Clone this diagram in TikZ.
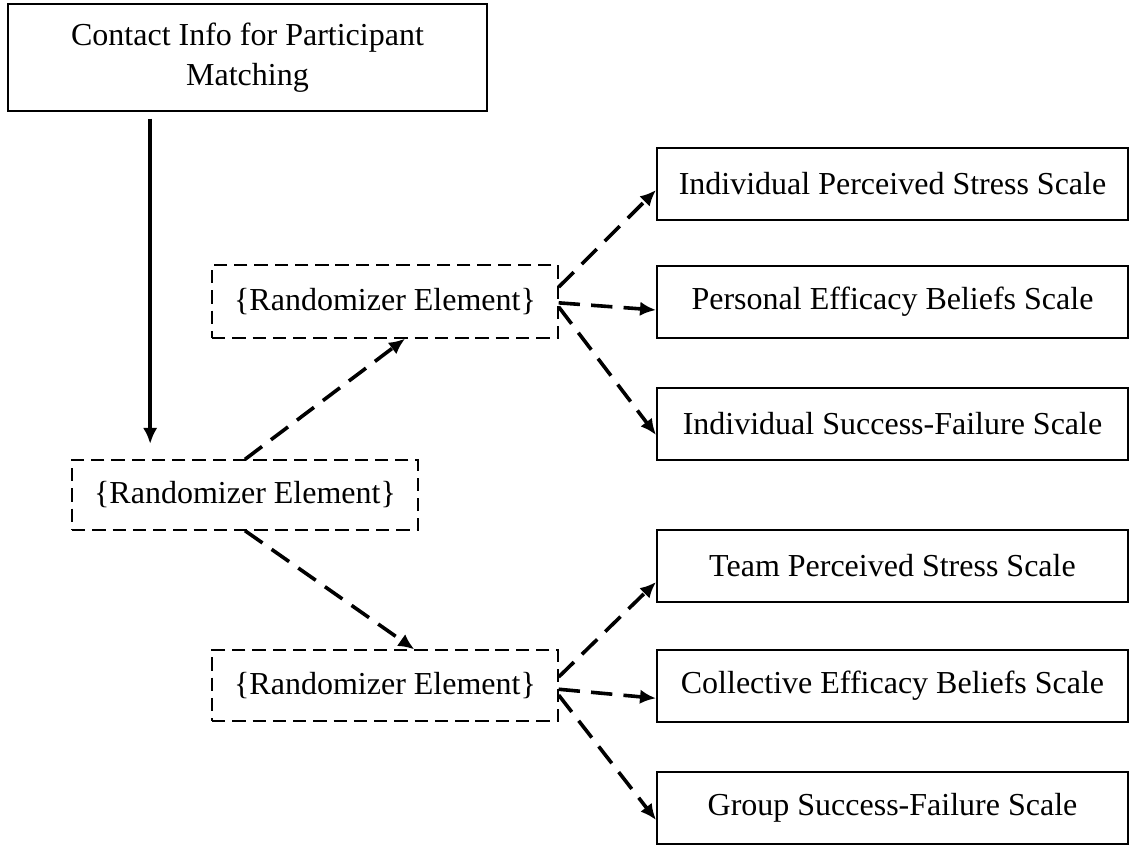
\documentclass[tikz,border=0pt]{standalone}
\usepackage{fontspec}
\setmainfont{Liberation Serif}
\usetikzlibrary{arrows.meta}
\begin{document}
\begin{tikzpicture}[x=0.375pt,y=-0.375pt,>={Latex[length=6pt,width=5.4pt]},
  font=\fontsize{12}{15}\selectfont,
  infobox/.style={draw,line width=0.75pt,align=center,inner sep=0pt},
  randbox/.style={draw,line width=0.5pt,dash pattern=on 5pt off 2.6pt,minimum width=129.75pt,inner sep=0pt},
  scalebox/.style={draw,line width=0.75pt,minimum width=176.6pt,minimum height=27pt,inner sep=0pt},
  flow/.style={->,line width=1.4pt},
  dflow/.style={->,line width=1.35pt,dash pattern=on 8pt off 4.2pt}]
\useasboundingbox (0,0) rectangle (1130,849);
\node[infobox,minimum width=179.6pt,minimum height=40.1pt] (contact) at (247.5,57.5){Contact Info for Participant\\Matching};
\node[randbox,minimum height=26.25pt] (rand) at (245,495){\{Randomizer Element\}};
\node[randbox,minimum height=27.4pt] (randind) at (385,301.5){\{Randomizer Element\}};
\node[randbox,minimum height=26.6pt] (randgrp) at (385,685.5){\{Randomizer Element\}};
\node[scalebox] (indstress) at (892.5,184){Individual Perceived Stress Scale};
\node[scalebox] (perseff) at (892.5,302){Personal Efficacy Beliefs Scale};
\node[scalebox] (indsf) at (892.5,423.5){Individual Success-Failure Scale};
\node[scalebox] (teamstress) at (892.5,566){Team Perceived Stress Scale};
\node[scalebox] (colleff) at (892.5,686){Collective Efficacy Beliefs Scale};
\node[scalebox] (grpsf) at (892.5,808){Group Success-Failure Scale};
\coordinate (s0) at ([xshift=-36.5pt,yshift=-2.5pt]contact.south);
\draw[flow,shorten >=5.8pt] (s0)--(s0 |- rand.north);
\draw[dflow] (rand.north)--([xshift=7.5pt]randind.south);
\draw[dflow] (rand.south)--([xshift=11pt]randgrp.north);
\draw[dflow] ([yshift=5.4pt]randind.east)--([yshift=-2.25pt]indstress.west);
\draw[dflow] ([yshift=-0.5pt]randind.east)--([yshift=-3pt]perseff.west);
\draw[dflow] ([yshift=-2pt]randind.east)--([yshift=-4.3pt]indsf.west);
\draw[dflow] ([yshift=3.2pt]randgrp.east)--([yshift=-6pt]teamstress.west);
\draw[dflow] ([yshift=-1.4pt]randgrp.east)--([yshift=-4.6pt]colleff.west);
\draw[dflow] ([yshift=-3.6pt]randgrp.east)--([yshift=-4.5pt]grpsf.west);
\end{tikzpicture}
\end{document}
